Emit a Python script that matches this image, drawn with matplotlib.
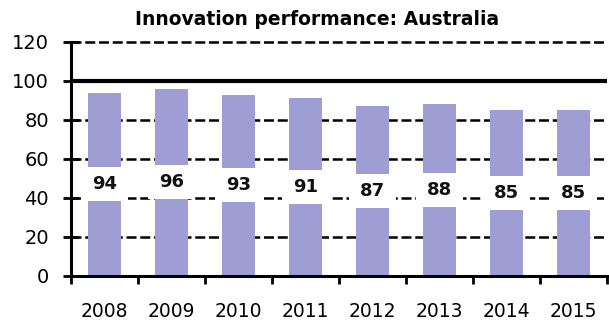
import matplotlib
matplotlib.use("Agg")
import matplotlib.pyplot as plt
import numpy as np

years = ["2008", "2009", "2010", "2011", "2012", "2013", "2014", "2015"]
scores = [94, 96, 93, 91, 87, 88, 85, 85]
y_ticks = [0, 20, 40, 60, 80, 100, 120]

bar_color = "#9e9ed4"

fig = plt.figure(figsize=(6.09, 3.27), dpi=100)
ax = fig.add_axes([0.117, 0.156, 0.88, 0.716])

x = np.arange(len(years))
ax.set_xlim(-0.5, len(years) - 0.5)
ax.set_ylim(0, 120)

# dashed grid, solid reference at 100
for t in [20, 40, 60, 80, 120]:
    ax.axhline(t, color="black", linestyle=(0, (4, 1.5)), linewidth=1.8,
               zorder=1, clip_on=False)
ax.axhline(100, color="black", linewidth=3, zorder=1)

ax.bar(x, scores, width=0.5, color=bar_color, zorder=2)

# white label boxes cut through the middle of each bar
half = np.array(scores) / 2
ax.bar(x, [17.5] * len(x), bottom=half - 8.75, width=0.70, color="white", zorder=3)
for xi, h, v in zip(x, half, scores):
    ax.text(xi, h, f"{v}", ha="center", va="center", fontsize=13,
            fontweight="bold", color="#111111", zorder=4)

ax.set_yticks(y_ticks)
ax.set_yticklabels([str(t) for t in y_ticks], fontsize=14)
ax.set_xticks(np.arange(len(years) + 1) - 0.5, minor=False)
ax.set_xticklabels([])
ax.set_xticks(x, minor=True)
ax.set_xticklabels(years, minor=True, fontsize=13.5)
ax.tick_params(axis="x", which="major", direction="out", length=6, width=2)
ax.tick_params(axis="x", which="minor", length=0, pad=19)
ax.tick_params(axis="y", direction="inout", length=12, width=2, pad=10)

for side in ["top", "right"]:
    ax.spines[side].set_visible(False)
ax.spines["left"].set_linewidth(2.2)
ax.spines["bottom"].set_linewidth(2.2)
ax.spines["left"].set_zorder(5)
ax.spines["bottom"].set_zorder(5)

fig.text(0.52, 0.94, "Innovation performance: Australia", ha="center", va="center",
         fontsize=13.5, fontweight="bold")

fig.savefig("out.png", dpi=100)
plt.close(fig)
